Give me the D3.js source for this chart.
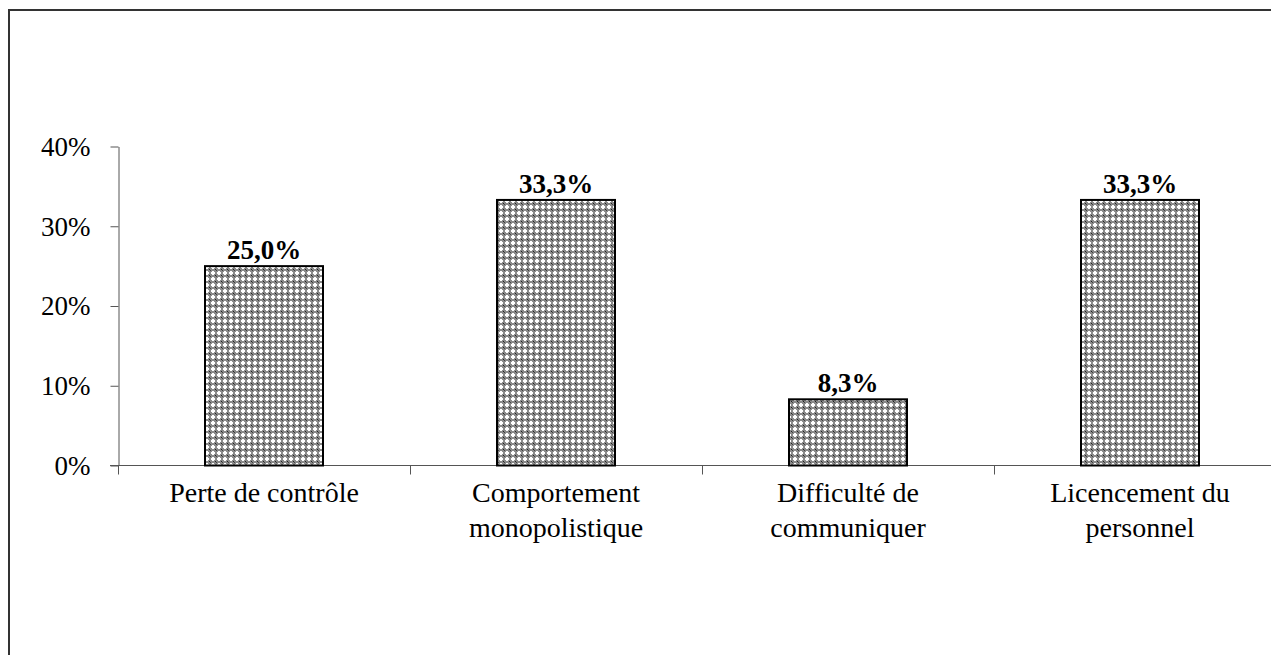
<!DOCTYPE html>
<html>
<head>
<meta charset="utf-8">
<script src="https://cdn.jsdelivr.net/npm/d3@7/dist/d3.min.js"></script>
<style>
  html, body { margin: 0; padding: 0; background: #fff; overflow: hidden; }
  svg { display: block; }
</style>
</head>
<body>
<svg id="chart" width="1271" height="655"></svg>
<script>
// Reasons cited, share of respondents
const categories = [
  ["Perte de contrôle"],
  ["Comportement", "monopolistique"],
  ["Difficulté de", "communiquer"],
  ["Licencement du", "personnel"]
];
const values = [25.0, 33.3, 8.3, 33.3];
const valueLabels = ["25,0%", "33,3%", "8,3%", "33,3%"];
const yTicks = [0, 10, 20, 30, 40];
const yTickLabels = ["0%", "10%", "20%", "30%", "40%"];

const svg = d3.select("#chart");
const font = "'Liberation Serif', 'Times New Roman', serif";
const fontSize = 27;
const catFontSize = 28;

// Outer frame (runs past the right and bottom edges)
svg.append("rect")
  .attr("x", 9).attr("y", 10)
  .attr("width", 1300).attr("height", 700)
  .attr("fill", "none")
  .attr("stroke", "#333").attr("stroke-width", 2);

// Dotted-grid fill pattern for the bars
const defs = svg.append("defs");
const pat = defs.append("pattern")
  .attr("id", "dots")
  .attr("patternUnits", "userSpaceOnUse")
  .attr("width", 6).attr("height", 6);
pat.append("rect").attr("width", 6).attr("height", 6).attr("fill", "#8a8a8a");
// white plus shapes
pat.append("rect").attr("x", 2).attr("y", 1).attr("width", 2).attr("height", 4).attr("fill", "#fff");
pat.append("rect").attr("x", 1).attr("y", 2).attr("width", 4).attr("height", 2).attr("fill", "#fff");
// dark corner dots
pat.append("rect").attr("x", 5).attr("y", 5).attr("width", 1).attr("height", 1).attr("fill", "#222");
pat.append("rect").attr("x", 0).attr("y", 0).attr("width", 1).attr("height", 1).attr("fill", "#444");

const x0 = 118, bandW = 292;
const x = d3.scaleBand()
  .domain(d3.range(categories.length))
  .range([x0, x0 + bandW * categories.length])
  .paddingInner(0).paddingOuter(0);
const y = d3.scaleLinear().domain([0, 40]).range([465.5, 146.5]);

// Y axis
const yAxis = svg.append("g")
  .attr("transform", `translate(${x0 + 0.5},0)`)
  .call(d3.axisLeft(y).tickValues(yTicks).tickSize(8).tickSizeOuter(0)
    .tickFormat((d, i) => yTickLabels[i]));
yAxis.select(".domain").attr("stroke", "#555").attr("stroke-width", 1);
yAxis.selectAll(".tick line").attr("stroke", "#555");
yAxis.selectAll(".tick text")
  .attr("x", -28)
  .attr("font-family", font).attr("font-size", fontSize).attr("fill", "#000")
  .attr("dy", "0.33em");

// X axis line and category separators
svg.append("line")
  .attr("x1", x0 - 8).attr("x2", 1271)
  .attr("y1", y(0)).attr("y2", y(0))
  .attr("stroke", "#555");
d3.range(categories.length + 1).forEach(i => {
  const tx = x0 + i * bandW + 0.5;
  svg.append("line")
    .attr("x1", tx).attr("x2", tx)
    .attr("y1", y(0)).attr("y2", y(0) + 9)
    .attr("stroke", "#555");
});

// Bars
const barW = 118;
svg.append("g").selectAll("rect")
  .data(values)
  .join("rect")
  .attr("x", (d, i) => x(i) + (x.bandwidth() - barW) / 2)
  .attr("y", d => y(d))
  .attr("width", barW)
  .attr("height", d => y(0) - y(d))
  .attr("fill", "url(#dots)")
  .attr("stroke", "#000").attr("stroke-width", 2);

// Value labels
svg.append("g").selectAll("text")
  .data(values)
  .join("text")
  .attr("x", (d, i) => x(i) + x.bandwidth() / 2)
  .attr("y", d => y(d) - 7)
  .attr("text-anchor", "middle")
  .attr("font-family", font).attr("font-weight", "bold").attr("font-size", fontSize)
  .attr("fill", "#000")
  .text((d, i) => valueLabels[i]);

// Category labels
categories.forEach((lines, i) => {
  const t = svg.append("text")
    .attr("text-anchor", "middle")
    .attr("font-family", font).attr("font-size", catFontSize).attr("fill", "#000");
  lines.forEach((ln, j) => {
    t.append("tspan")
      .attr("x", x(i) + x.bandwidth() / 2)
      .attr("y", 502 + j * 35)
      .text(ln);
  });
});
</script>
</body>
</html>
